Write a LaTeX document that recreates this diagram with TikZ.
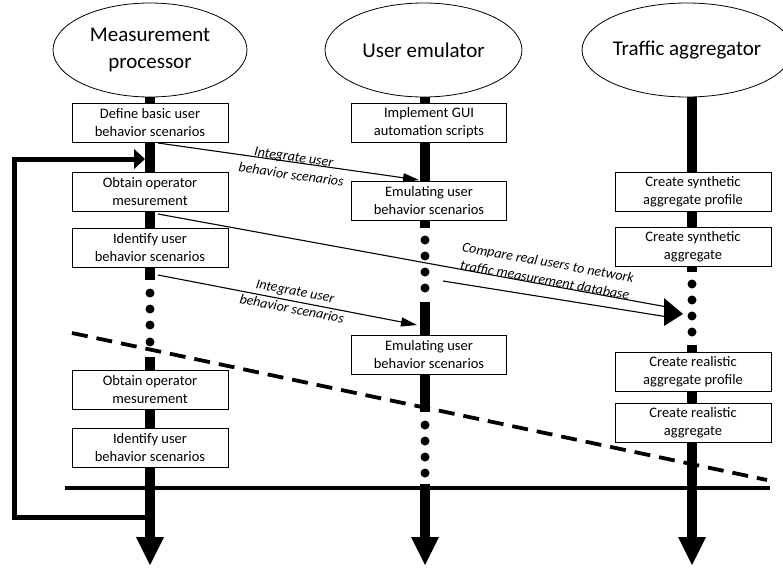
\documentclass[tikz,border=0pt]{standalone}
\usepackage{fontspec}
\setmainfont{Carlito}
\usetikzlibrary{arrows.meta,shapes.geometric}
\begin{document}
\begin{tikzpicture}[x=1pt,y=-1pt,
  every node/.style={inner sep=0pt},
  actor/.style={ellipse, draw, line width=0.8pt, minimum width=194pt, minimum height=94pt,
    align=center, font=\fontsize{21}{27}\selectfont},
  task/.style={rectangle, draw, fill=white, line width=0.8pt, minimum width=156pt,
    minimum height=39pt, align=center, font=\fontsize{14.5}{18}\selectfont},
  lifeline/.style={line width=10pt},
  msg/.style={line width=1.1pt, -{Triangle[length=16pt,width=9pt]}},
  msgline/.style={line width=1.1pt},
  msglabel/.style={align=center, font=\fontsize{14}{18}\itshape\selectfont},
  backloop/.style={line width=5pt, line join=miter},
  phase/.style={line width=3.8pt, dash pattern=on 16pt off 9pt},
  baseline rule/.style={line width=3.5pt}]
\useasboundingbox (0,0) rectangle (783,568);

% horizontal rule and phase separator (drawn beneath the lifelines)
\coordinate (ruleL) at (65,488);
\coordinate (ruleR) at (770,488);
\draw[baseline rule] (ruleL) -- (ruleR);
\coordinate (phaseL) at (72,333);
\coordinate (phaseR) at (767,480);
\draw[phase] (phaseL) -- (phaseR);

% participants
\node[actor] (mp) at (150,50) {Measurement\\processor};
\node[actor, minimum width=197pt] (ue) at (423.5,50) {User emulator};
\node[actor, minimum width=190pt] (ta) at (687,50) {Traffic aggregator};

% lifelines: Measurement processor
\draw[lifeline] (150,97) -- (150,280);
\foreach \y in {293,309,325,342} \fill (150,\y) circle (4.5pt);
\draw[lifeline] (150,357) -- (150,538);
\fill (136,537) -- (164,537) -- (150,565) -- cycle;

% lifelines: User emulator
\draw[lifeline] (425,97) -- (425,228);
\foreach \y in {240,256,272,288} \fill (425,\y) circle (4.5pt);
\draw[lifeline] (425,302) -- (425,412);
\foreach \y in {425,441,457,473} \fill (425,\y) circle (4.5pt);
\draw[lifeline] (425,484) -- (425,538);
\fill (411,537) -- (439,537) -- (425,565) -- cycle;

% lifelines: Traffic aggregator
\draw[lifeline] (692,97) -- (692,272);
\foreach \y in {284,300,316,332} \fill (692,\y) circle (4.5pt);
\draw[lifeline] (692,345) -- (692,538);
\fill (678,537) -- (706,537) -- (692,565) -- cycle;

% feedback loop
\draw[backloop] (150,517) -- (14,517) -- (14,159) -- (135,159);
\fill (134,149) -- (145,159) -- (134,169) -- cycle;

% activities
\node[task] (m1) at (150,122.5) {Define basic user\\behavior scenarios};
\node[task] (m2) at (150,191.5) {Obtain operator\\mesurement};
\node[task] (m3) at (150,248) {Identify user\\behavior scenarios};
\node[task] (m4) at (150,389.5) {Obtain operator\\mesurement};
\node[task] (m5) at (150,447.5) {Identify user\\behavior scenarios};

\node[task, minimum width=155pt] (u1) at (429,122.5) {Implement GUI\\automation scripts};
\node[task, minimum width=155pt] (u2) at (429,201) {Emulating user\\behavior scenarios};
\node[task, minimum width=155pt] (u3) at (429,354.5) {Emulating user\\behavior scenarios};

\node[task] (t1) at (693,191.5) {Create synthetic\\aggregate profile};
\node[task] (t2) at (693,246.5) {Create synthetic\\aggregate};
\node[task] (t3) at (693,372) {Create realistic\\aggregate profile};
\node[task] (t4) at (693,422.5) {Create realistic\\aggregate};

% messages
\coordinate (a1s) at (158,143);
\coordinate (a1e) at (419,180);
\draw[msg] (a1s) -- (a1e);
\node[msglabel, rotate=-8.1] (l1) at (292.5,166) {Integrate user\\behavior scenarios};

\coordinate (a3s) at (158,275);
\coordinate (a3e) at (417,325);
\draw[msg] (a3s) -- (a3e);
\node[msglabel, rotate=-10.9] (l3) at (293.5,300) {Integrate user\\behavior scenarios};

\coordinate (c1s) at (158,214);
\coordinate (c1e) at (665,306.6);
\coordinate (c2s) at (443,281);
\coordinate (c2e) at (665,316.5);
\draw[msgline] (c1s) -- (c1e);
\draw[msgline] (c2s) -- (c2e);
\fill (664,298) -- (683,314) -- (664,326) -- cycle;
\node[msglabel, rotate=-10.2] (lc) at (546.5,271) {Compare real users to network\\traffic measurement database};
\end{tikzpicture}
\end{document}
